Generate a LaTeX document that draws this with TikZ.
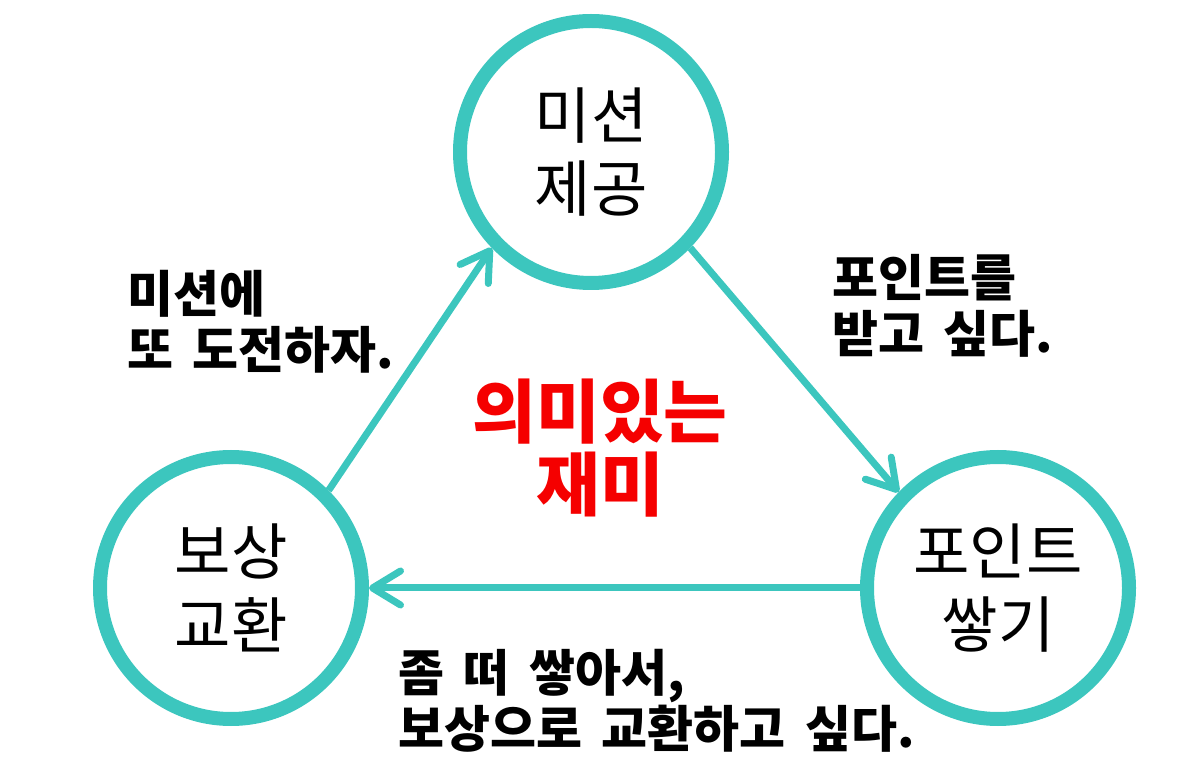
\documentclass[tikz,border=0pt]{standalone}
\usepackage{fontspec}
\setmainfont{Noto Sans CJK KR}
\newfontfamily\lblfont{Noto Sans CJK KR}[WordSpace=1.7]
\usetikzlibrary{arrows.meta}
\definecolor{teal1}{HTML}{3CC6BE}
\definecolor{red1}{HTML}{F50000}
\begin{document}
\begin{tikzpicture}[x=0.75pt,y=-0.75pt,
  ring/.style={circle,draw=teal1,line width=10.5pt,minimum size=196.5pt,inner sep=0pt,
    align=center,font=\fontsize{46pt}{55pt}\selectfont},
  link/.style={draw=teal1,line width=5.25pt,
    -{Straight Barb[length=21pt,width=25.5pt,round]}},
  lbl/.style={anchor=west,align=left,inner sep=0pt,
    font=\lblfont\fontsize{37.5pt}{42pt}\selectfont\bfseries},
  ctr/.style={align=center,inner sep=0pt,text=red1,
    font=\fontsize{52pt}{55pt}\selectfont\bfseries}]
\useasboundingbox (0,0) rectangle (1197,780);
\node[ring] (T) at (591,152) {미션\\제공};
\node[ring] (L) at (231,588) {보상\\교환};
\node[ring] (R) at (998,588) {포인트\\쌓기};
\draw[link] (L.45) -- (T.224);
\draw[link] (T.316) -- (R.136);
\draw[link] (R.180) -- (L.0);
\node[lbl] (l1) at (127,322) {미션에\\또 도전하자.};
\node[lbl] (l2) at (832,306) {포인트를\\받고 싶다.};
\node[lbl] (l3) at (398,701) {좀 떠 쌓아서,\\보상으로 교환하고 싶다.};
\node[ctr] (c) at (600,448) {의미있는\\재미};
\end{tikzpicture}
\end{document}
